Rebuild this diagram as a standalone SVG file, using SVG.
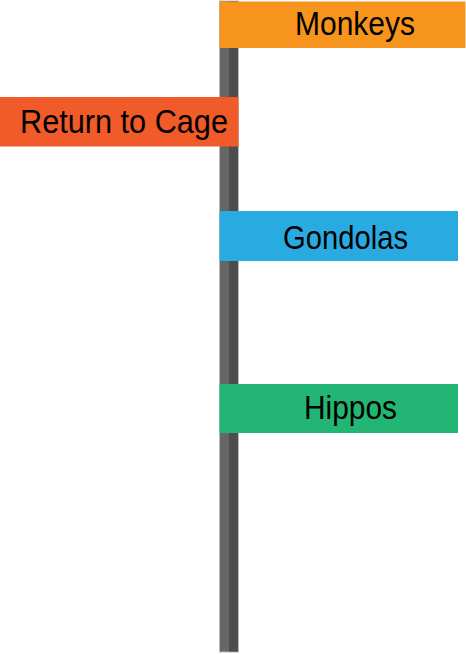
<svg xmlns="http://www.w3.org/2000/svg" width="466" height="654" viewBox="0 0 466 654">
<style>
.lbl{font-family:"Liberation Sans","DejaVu Sans",sans-serif;font-size:34px;fill:#000;text-anchor:middle}
</style>
<rect width="466" height="654" fill="#fff"/>
<g id="pole">
<rect x="219.5" y="1" width="19" height="651" fill="#666666" stroke="#bbbbbb" stroke-width="1"/>
<rect x="229" y="1.5" width="9" height="650" fill="#4d4d4d"/>
</g>
<g id="monkeys">
<rect x="219.5" y="1.5" width="246" height="46.5" fill="#f7941d"/>
<text class="lbl" x="355" y="35" textLength="120" lengthAdjust="spacingAndGlyphs">Monkeys</text>
</g>
<g id="return">
<rect x="0" y="97" width="238.5" height="49.5" fill="#f15a29"/>
<text class="lbl" x="124" y="133" textLength="208" lengthAdjust="spacingAndGlyphs">Return to Cage</text>
</g>
<g id="gondolas">
<rect x="219.5" y="211" width="238.5" height="50" fill="#29abe2"/>
<text class="lbl" x="345.5" y="249" textLength="125" lengthAdjust="spacingAndGlyphs">Gondolas</text>
</g>
<g id="hippos">
<rect x="219.5" y="384" width="238.5" height="49" fill="#22b573"/>
<text class="lbl" x="350.5" y="419" textLength="93" lengthAdjust="spacingAndGlyphs">Hippos</text>
</g>
<g id="connectors"/>
</svg>
